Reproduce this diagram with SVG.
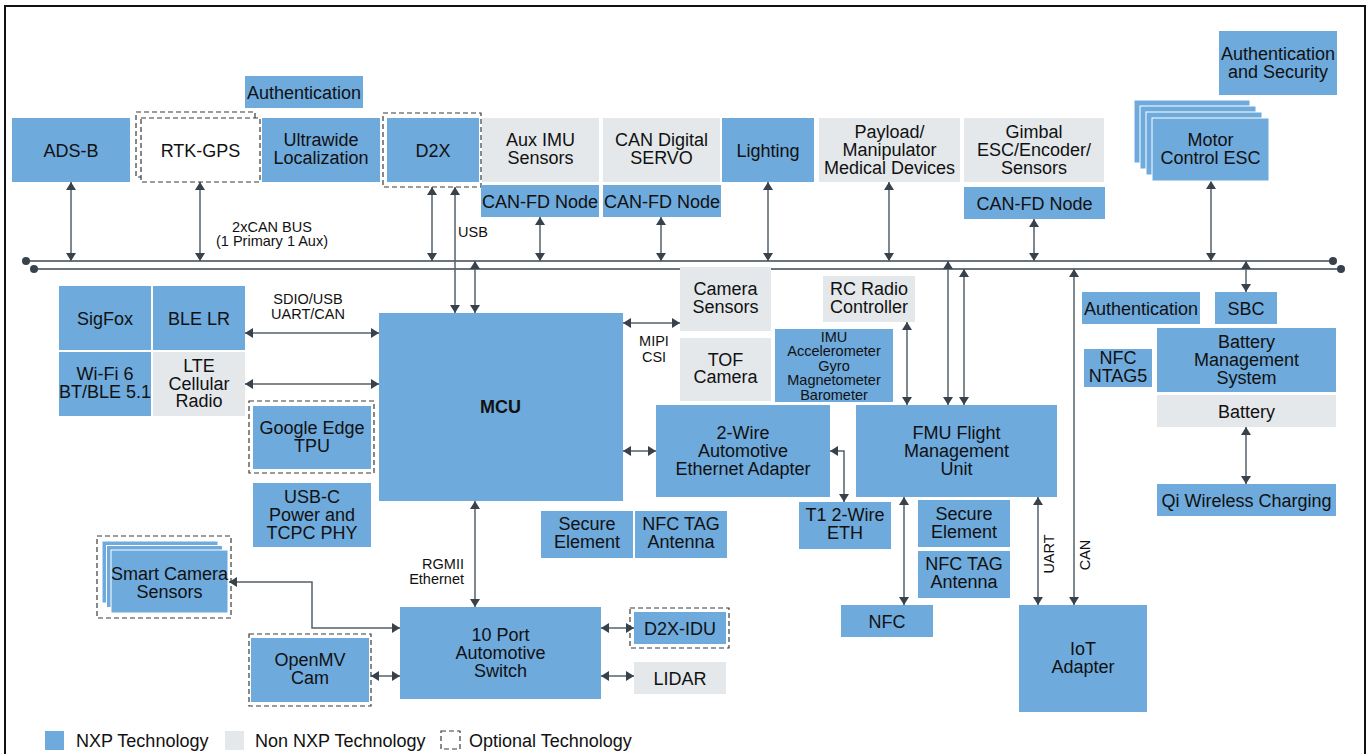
<svg xmlns="http://www.w3.org/2000/svg" width="1367" height="754" viewBox="0 0 1367 754">
<defs>
<marker id="a" viewBox="0 0 8 10" refX="8" refY="5" markerWidth="8" markerHeight="10" markerUnits="userSpaceOnUse" orient="auto-start-reverse"><path d="M0,0 L8,5 L0,10 z" fill="#37424c"/></marker>
<style>
.b{fill:#6eaadc}
.g{fill:#e4e8eb}
.w{fill:#6eaadc;stroke:#fff;stroke-width:1}
.d{fill:none;stroke:#3a3a3a;stroke-width:1.2;stroke-dasharray:5 3}
.t{font-family:"Liberation Sans",Arial,sans-serif;font-size:18px;fill:#111;text-anchor:middle}
.s{font-size:14.5px}
.i{font-size:14.5px}
.l{font-family:"Liberation Sans",Arial,sans-serif;font-size:18px;fill:#111}
.c{stroke:#55606a;stroke-width:1.5;fill:none;marker-start:url(#a);marker-end:url(#a)}
.bus{stroke:#6b747c;stroke-width:2;fill:none}
</style>
</defs>
<rect width="1367" height="754" fill="#fff"/>
<path d="M5,754 V6 H1365 V754" fill="none" stroke="#111" stroke-width="2"/>

<g id="connectors">
<path class="bus" d="M26,261 H1333"/>
<path class="bus" d="M34,269 H1341"/>
<circle cx="26" cy="261" r="4" fill="#37424c"/>
<circle cx="34" cy="269" r="4" fill="#37424c"/>
<circle cx="1333" cy="261" r="4" fill="#37424c"/>
<circle cx="1341" cy="269" r="4" fill="#37424c"/>
<path class="c" d="M71,182 V261"/>
<path class="c" d="M200,182 V261"/>
<path class="c" d="M432,187 V261"/>
<path class="c" d="M455,187 V313"/>
<path class="c" d="M475,261 V313"/>
<path class="c" d="M540,217 V261"/>
<path class="c" d="M661,217 V261"/>
<path class="c" d="M768,182 V261"/>
<path class="c" d="M889,182 V261"/>
<path class="c" d="M1034,219 V261"/>
<path class="c" d="M1211,181 V261"/>
<path class="c" d="M1246,261 V292"/>
<path class="c" d="M948,261 V405"/>
<path class="c" d="M964,269 V405"/>
<path class="c" d="M1074,269 V605"/>
<path class="c" d="M245,333 H379"/>
<path class="c" d="M245,384 H379"/>
<path class="c" d="M623,323 H680"/>
<path class="c" d="M623,451 H656"/>
<path class="c" d="M830,451 H844 V502"/>
<path class="c" d="M907,322 V405"/>
<path class="c" d="M475,501 V607"/>
<path class="c" d="M904,497 V605"/>
<path class="c" d="M1038,497 V605"/>
<path class="c" d="M1246,427 V484"/>
<path class="c" d="M229,582 H312 V628 H400"/>
<path class="c" d="M371,676 H400"/>
<path class="c" d="M601,628 H634"/>
<path class="c" d="M601,676 H634"/>
<text class="t s"><tspan x="272" y="232">2xCAN BUS</tspan><tspan x="272" y="246">(1 Primary 1 Aux)</tspan></text>
<text class="t s" x="458" y="237" style="text-anchor:start">USB</text>
<text class="t s"><tspan x="308" y="304">SDIO/USB</tspan><tspan x="308" y="319">UART/CAN</tspan></text>
<text class="t s"><tspan x="654" y="346">MIPI</tspan><tspan x="654" y="361.5">CSI</tspan></text>
<text class="t s" style="text-anchor:end"><tspan x="464" y="569">RGMII</tspan><tspan x="464" y="584">Ethernet</tspan></text>
<text class="t s" transform="translate(1054,554) rotate(-90)">UART</text>
<text class="t s" transform="translate(1090,555) rotate(-90)">CAN</text>
</g>

<g id="ads-b"><rect class="b" x="12" y="118" width="118" height="64"/><text class="t" x="71" y="156.5">ADS-B</text></g>
<g id="rtk-gps"><rect class="d" x="136" y="112" width="119" height="65"/><rect class="d" x="141" y="118" width="119" height="64" style="fill:#fff"/><text class="t" x="200.5" y="156.5">RTK-GPS</text></g>
<g id="auth-top"><rect class="b" x="245" y="76" width="118" height="32"/><text class="t" x="304" y="98.5">Authentication</text></g>
<g id="uwb"><rect class="b" x="262" y="118" width="118" height="64"/><text class="t"><tspan x="321" y="146">Ultrawide</tspan><tspan x="321" y="164">Localization</tspan></text></g>
<g id="d2x"><rect class="d" x="383" y="113" width="98" height="74"/><rect class="b" x="387" y="118" width="92" height="64"/><text class="t" x="433" y="156.5">D2X</text></g>
<g id="aux-imu"><rect class="g" x="482" y="118" width="117" height="64"/><text class="t"><tspan x="540.5" y="146">Aux IMU</tspan><tspan x="540.5" y="164">Sensors</tspan></text></g>
<g id="canfd-1"><rect class="b" x="481" y="185" width="118" height="32"/><text class="t" x="540" y="207.5">CAN-FD Node</text></g>
<g id="can-servo"><rect class="g" x="603" y="118" width="117" height="64"/><text class="t"><tspan x="661.5" y="146">CAN Digital</tspan><tspan x="661.5" y="164">SERVO</tspan></text></g>
<g id="canfd-2"><rect class="b" x="603" y="185" width="118" height="32"/><text class="t" x="662" y="207.5">CAN-FD Node</text></g>
<g id="lighting"><rect class="b" x="722" y="118" width="92" height="64"/><text class="t" x="768" y="156.5">Lighting</text></g>
<g id="payload"><rect class="g" x="819" y="118" width="141" height="64"/><text class="t"><tspan x="889.5" y="138">Payload/</tspan><tspan x="889.5" y="156">Manipulator</tspan><tspan x="889.5" y="174">Medical Devices</tspan></text></g>
<g id="gimbal"><rect class="g" x="964" y="118" width="140" height="64"/><text class="t"><tspan x="1034" y="138">Gimbal</tspan><tspan x="1034" y="156">ESC/Encoder/</tspan><tspan x="1034" y="174">Sensors</tspan></text></g>
<g id="canfd-3"><rect class="b" x="964" y="187" width="141" height="32"/><text class="t" x="1034.5" y="209.5">CAN-FD Node</text></g>
<g id="motor-esc"><rect class="w" x="1134" y="100" width="116" height="63"/><rect class="w" x="1140" y="106" width="116" height="63"/><rect class="w" x="1146" y="112" width="116" height="63"/><rect class="w" x="1152" y="118" width="117" height="63"/><text class="t"><tspan x="1210.5" y="146">Motor</tspan><tspan x="1210.5" y="164">Control ESC</tspan></text></g>
<g id="auth-sec"><rect class="b" x="1219" y="31" width="118" height="64"/><text class="t"><tspan x="1278" y="59.5">Authentication</tspan><tspan x="1278" y="77.5">and Security</tspan></text></g>

<g id="sigfox"><rect class="b" x="59" y="286" width="92" height="64"/><text class="t" x="105" y="324.5">SigFox</text></g>
<g id="ble-lr"><rect class="b" x="153" y="286" width="92" height="64"/><text class="t" x="199" y="324.5">BLE LR</text></g>
<g id="wifi"><rect class="b" x="59" y="352" width="92" height="64"/><text class="t"><tspan x="105" y="380">Wi-Fi 6</tspan><tspan x="105" y="398">BT/BLE 5.1</tspan></text></g>
<g id="lte"><rect class="g" x="153" y="352" width="92" height="64"/><text class="t"><tspan x="199" y="372">LTE</tspan><tspan x="199" y="389.5">Cellular</tspan><tspan x="199" y="407">Radio</tspan></text></g>
<g id="google-tpu"><rect class="d" x="249" y="401" width="125" height="72"/><rect class="b" x="253" y="406" width="118" height="63"/><text class="t"><tspan x="312" y="434">Google Edge</tspan><tspan x="312" y="451.5">TPU</tspan></text></g>
<g id="usb-c"><rect class="b" x="253" y="483" width="118" height="64"/><text class="t"><tspan x="312" y="502.5">USB-C</tspan><tspan x="312" y="520.5">Power and</tspan><tspan x="312" y="538.5">TCPC PHY</tspan></text></g>
<g id="mcu"><rect class="b" x="379" y="313" width="244" height="188"/><text class="t" x="500.5" y="413" style="font-weight:bold">MCU</text></g>
<g id="camera-sensors"><rect class="g" x="680" y="267" width="91" height="64"/><text class="t"><tspan x="725.5" y="295">Camera</tspan><tspan x="725.5" y="313">Sensors</tspan></text></g>
<g id="tof"><rect class="g" x="680" y="338" width="91" height="63"/><text class="t"><tspan x="725.5" y="365.5">TOF</tspan><tspan x="725.5" y="383">Camera</tspan></text></g>
<g id="imu"><rect class="b" x="775" y="329" width="118" height="73"/><text class="t i"><tspan x="834" y="341.5">IMU</tspan><tspan x="834" y="356">Accelerometer</tspan><tspan x="834" y="370.5">Gyro</tspan><tspan x="834" y="385">Magnetometer</tspan><tspan x="834" y="399.5">Barometer</tspan></text></g>
<g id="rc-radio"><rect class="g" x="823" y="276" width="92" height="46"/><text class="t"><tspan x="869" y="295">RC Radio</tspan><tspan x="869" y="312.5">Controller</tspan></text></g>
<g id="two-wire"><rect class="b" x="656" y="405" width="174" height="92"/><text class="t"><tspan x="743" y="439">2-Wire</tspan><tspan x="743" y="457">Automotive</tspan><tspan x="743" y="475">Ethernet Adapter</tspan></text></g>
<g id="fmu"><rect class="b" x="856" y="405" width="201" height="92"/><text class="t"><tspan x="956.5" y="439">FMU Flight</tspan><tspan x="956.5" y="457">Management</tspan><tspan x="956.5" y="475">Unit</tspan></text></g>
<g id="t1-eth"><rect class="b" x="799" y="502" width="92" height="47"/><text class="t"><tspan x="845" y="521">T1 2-Wire</tspan><tspan x="845" y="539">ETH</tspan></text></g>
<g id="secure-left"><rect class="b" x="541" y="511" width="92" height="47"/><text class="t"><tspan x="587" y="530">Secure</tspan><tspan x="587" y="547.5">Element</tspan></text></g>
<g id="nfc-tag-left"><rect class="b" x="635" y="511" width="92" height="47"/><text class="t"><tspan x="681" y="530">NFC TAG</tspan><tspan x="681" y="547.5">Antenna</tspan></text></g>
<g id="secure-right"><rect class="b" x="918" y="500" width="92" height="47"/><text class="t"><tspan x="964" y="519.5">Secure</tspan><tspan x="964" y="537.5">Element</tspan></text></g>
<g id="nfc-tag-right"><rect class="b" x="918" y="551" width="92" height="47"/><text class="t"><tspan x="964" y="570">NFC TAG</tspan><tspan x="964" y="588">Antenna</tspan></text></g>
<g id="nfc"><rect class="b" x="841" y="605" width="92" height="32"/><text class="t" x="887" y="627.5">NFC</text></g>
<g id="iot"><rect class="b" x="1019" y="605" width="128" height="107"/><text class="t"><tspan x="1083" y="655">IoT</tspan><tspan x="1083" y="673">Adapter</tspan></text></g>
<g id="auth-right"><rect class="b" x="1082" y="292" width="118" height="32"/><text class="t" x="1141" y="314.5">Authentication</text></g>
<g id="sbc"><rect class="b" x="1215" y="292" width="62" height="32"/><text class="t" x="1246" y="314.5">SBC</text></g>
<g id="ntag5"><rect class="b" x="1084" y="349" width="68" height="38"/><text class="t"><tspan x="1118" y="364">NFC</tspan><tspan x="1118" y="382">NTAG5</tspan></text></g>
<g id="bms"><rect class="b" x="1157" y="328" width="179" height="64"/><text class="t"><tspan x="1246.5" y="348">Battery</tspan><tspan x="1246.5" y="366">Management</tspan><tspan x="1246.5" y="384">System</tspan></text></g>
<g id="battery"><rect class="g" x="1157" y="395" width="179" height="32"/><text class="t" x="1246.5" y="417.5">Battery</text></g>
<g id="qi"><rect class="b" x="1157" y="484" width="179" height="32"/><text class="t" x="1246.5" y="506.5">Qi Wireless Charging</text></g>

<g id="smart-camera"><rect class="d" x="97" y="536" width="134" height="82"/><rect class="w" x="102" y="541" width="116" height="62"/><rect class="w" x="106.5" y="545.5" width="116" height="62"/><rect class="w" x="111" y="550" width="117" height="63"/><text class="t"><tspan x="169.5" y="579.5">Smart Camera</tspan><tspan x="169.5" y="597.5">Sensors</tspan></text></g>
<g id="openmv"><rect class="d" x="249" y="634" width="122" height="72"/><rect class="b" x="251" y="638" width="118" height="64"/><text class="t"><tspan x="310" y="666">OpenMV</tspan><tspan x="310" y="684">Cam</tspan></text></g>
<g id="switch"><rect class="b" x="400" y="607" width="201" height="92"/><text class="t"><tspan x="500.5" y="641">10 Port</tspan><tspan x="500.5" y="659">Automotive</tspan><tspan x="500.5" y="677">Switch</tspan></text></g>
<g id="d2x-idu"><rect class="d" x="630" y="608" width="99" height="40"/><rect class="b" x="634" y="612" width="92" height="32"/><text class="t" x="680" y="634.5">D2X-IDU</text></g>
<g id="lidar"><rect class="g" x="634" y="662" width="92" height="32"/><text class="t" x="680" y="684.5">LIDAR</text></g>

<g id="legend">
<rect class="b" x="45" y="731" width="19" height="19"/><text class="l" x="76" y="747">NXP Technology</text>
<rect class="g" x="225" y="731" width="19" height="19"/><text class="l" x="255" y="747">Non NXP Technology</text>
<rect class="d" x="441" y="731" width="19" height="18"/><text class="l" x="469" y="747">Optional Technology</text>
</g>
</svg>
